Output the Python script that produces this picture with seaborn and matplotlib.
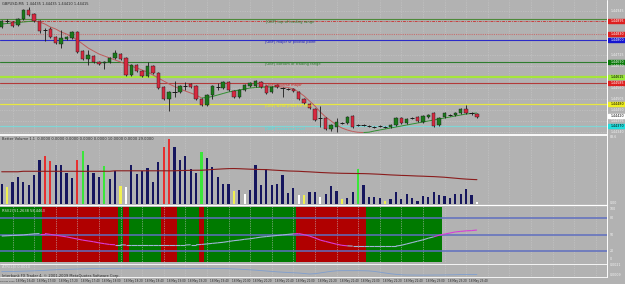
import numpy as np
import pandas as pd
import matplotlib
matplotlib.use("Agg")
import matplotlib.pyplot as plt
import seaborn as sns
from matplotlib.collections import LineCollection
from matplotlib.lines import Line2D

# ---------------- data ----------------
opens = [1.44865,1.44895,1.44890,1.44875,1.44905,1.44950,1.44930,1.44895,1.44850,1.44855,
         1.44815,1.44780,1.44805,1.44810,1.44840,1.44745,1.44705,1.44720,1.44690,1.44685,
         1.44690,1.44710,1.44730,1.44710,1.44625,1.44675,1.44645,1.44620,1.44670,1.44635,
         1.44565,1.44505,1.44540,1.44540,1.44570,1.44580,1.44570,1.44505,1.44475,1.44525,
         1.44565,1.44560,1.44590,1.44545,1.44515,1.44550,1.44570,1.44570,1.44590,1.44570,
         1.44540,1.44575,1.44560,1.44555,1.44555,1.44540,1.44505,1.44480,1.44455,1.44410,
         1.44410,1.44355,1.44365,1.44385,1.44385,1.44420,1.44375,1.44375,1.44370,1.44365,
         1.44370,1.44365,1.44365,1.44375,1.44410,1.44385,1.44410,1.44415,1.44390,1.44415,
         1.44435,1.44375,1.44415,1.44425,1.44425,1.44435,1.44455,1.44435,1.44430]
highs = [1.44900,1.44905,1.44895,1.44910,1.44955,1.44965,1.44935,1.44900,1.44860,1.44865,
         1.44820,1.44850,1.44820,1.44845,1.44845,1.44750,1.44750,1.44725,1.44695,1.44695,
         1.44715,1.44750,1.44735,1.44715,1.44680,1.44680,1.44650,1.44690,1.44675,1.44640,
         1.44570,1.44545,1.44595,1.44575,1.44590,1.44585,1.44575,1.44510,1.44530,1.44575,
         1.44585,1.44595,1.44595,1.44550,1.44555,1.44580,1.44590,1.44600,1.44595,1.44575,
         1.44570,1.44580,1.44565,1.44560,1.44560,1.44545,1.44510,1.44485,1.44460,1.44470,
         1.44415,1.44380,1.44410,1.44390,1.44420,1.44425,1.44380,1.44380,1.44375,1.44370,
         1.44375,1.44370,1.44380,1.44415,1.44415,1.44410,1.44415,1.44420,1.44425,1.44430,
         1.44440,1.44415,1.44440,1.44430,1.44440,1.44460,1.44475,1.44440,1.44435]
lows = [1.44860,1.44885,1.44865,1.44870,1.44900,1.44920,1.44890,1.44835,1.44795,1.44810,
        1.44780,1.44760,1.44800,1.44805,1.44735,1.44700,1.44675,1.44685,1.44675,1.44655,
        1.44685,1.44705,1.44700,1.44620,1.44620,1.44640,1.44615,1.44615,1.44630,1.44555,
        1.44500,1.44445,1.44515,1.44535,1.44550,1.44560,1.44500,1.44470,1.44470,1.44505,
        1.44550,1.44555,1.44545,1.44510,1.44510,1.44545,1.44565,1.44565,1.44560,1.44530,
        1.44535,1.44560,1.44515,1.44550,1.44540,1.44500,1.44480,1.44455,1.44395,1.44365,
        1.44350,1.44345,1.44340,1.44380,1.44380,1.44360,1.44370,1.44370,1.44365,1.44360,
        1.44365,1.44360,1.44360,1.44370,1.44380,1.44380,1.44405,1.44390,1.44385,1.44410,
        1.44365,1.44370,1.44410,1.44420,1.44420,1.44430,1.44430,1.44425,1.44410]
closes = [1.44895,1.44895,1.44870,1.44905,1.44950,1.44925,1.44895,1.44845,1.44850,1.44815,
          1.44785,1.44810,1.44815,1.44840,1.44740,1.44705,1.44725,1.44690,1.44680,1.44690,
          1.44710,1.44735,1.44705,1.44625,1.44675,1.44645,1.44620,1.44670,1.44635,1.44560,
          1.44505,1.44540,1.44540,1.44570,1.44570,1.44565,1.44505,1.44475,1.44525,1.44570,
          1.44565,1.44590,1.44550,1.44515,1.44550,1.44575,1.44585,1.44595,1.44565,1.44535,
          1.44565,1.44565,1.44560,1.44555,1.44545,1.44505,1.44485,1.44460,1.44400,1.44410,
          1.44355,1.44375,1.44390,1.44385,1.44415,1.44365,1.44375,1.44375,1.44370,1.44365,
          1.44370,1.44365,1.44375,1.44410,1.44385,1.44405,1.44410,1.44395,1.44420,1.44425,
          1.44370,1.44410,1.44435,1.44425,1.44435,1.44455,1.44435,1.44435,1.44415]
price_ma = [1.44880,1.448825,1.44885,1.448875,1.44890,1.448925,1.44895,1.44890,1.44880,1.44865,
            1.44855,1.44840,1.44830,1.44815,1.44800,1.44780,1.44760,1.44745,1.44730,1.44720,
            1.44710,1.44700,1.44690,1.44680,1.44670,1.44660,1.44650,1.44640,1.44625,1.44610,
            1.44595,1.44580,1.445675,1.44555,1.44545,1.44535,1.44525,1.44510,1.445125,1.445175,
            1.44525,1.445325,1.44540,1.44545,1.44550,1.44555,1.44560,1.445625,1.44564,1.44565,
            1.44566,1.445665,1.44565,1.445625,1.44555,1.44540,1.44520,1.44495,1.44470,1.44440,
            1.44415,1.44395,1.44375,1.44360,1.44350,1.443425,1.443385,1.443375,1.44339,1.44345,
            1.44350,1.44355,1.44360,1.44365,1.44370,1.44375,1.44380,1.44385,1.44390,1.44395,
            1.44400,1.44405,1.44410,1.44415,1.44420,1.44425,1.44430,1.444325,1.44435]

volumes = [25,21,27,34,27,24,36,54,59,53,49,48,39,32,54,66,48,39,34,47,
           31,41,22,21,48,37,41,45,27,52,71,81,71,54,59,43,39,64,57,46,
           34,25,25,16,17,12,17,48,24,43,24,25,36,14,20,11,11,15,15,9,
           12,22,16,6,7,15,43,24,9,9,7,4,6,15,6,13,7,4,10,9,
           15,11,10,7,12,13,19,11,2]
vol_kind = (["n","y"] + ["n"]*6 + ["r","r"] + ["n"]*4 + ["r","g"] + ["n"]*3 + ["g"]
            + ["n","n","y","w"] + ["n"]*6 + ["r","r"] + ["n"]*5 + ["g"] + ["n"]*5
            + ["y","n","w"] + ["n"]*9 + ["w","y","n","n","w","n","n","n","y","n","n","g"]
            + ["n"]*4 + ["y"] + ["n"]*16 + ["w"])
vol_ma = [40.0,40.0,40.0,40.0,40.6,40.6,40.6,40.6,40.6,40.6,
          40.6,40.6,40.6,40.6,40.6,40.6,40.6,40.6,40.6,40.6,
          40.6,41.2,41.2,41.2,41.2,41.2,41.2,41.2,41.2,41.2,
          41.2,41.2,41.2,41.5,41.6,41.8,41.9,41.9,42.3,42.8,
          43.2,43.6,43.9,44.0,43.8,43.5,43.2,43.0,42.8,42.7,
          42.2,41.8,41.4,41.0,40.8,40.6,40.2,39.9,39.5,39.1,
          38.8,38.5,38.3,38.1,38.0,37.9,37.8,37.7,37.5,37.2,
          36.9,36.5,36.1,35.8,35.5,35.3,35.0,34.7,34.5,34.2,
          34.0,33.6,33.2,32.6,32.0,31.4,30.9,30.5,30.2]

rsi_state = ["G"]*8 + ["R"]*14 + ["G"] + ["R"] + ["G"]*6 + ["R"]*3 + ["G"]*4 + ["R"] + ["G"]*17 + ["R"]*13 + ["G"]*14
rsi = [47.5,48,48.5,49,49.5,50.5,51.5,52,52,50.5,49,47.5,46,44,42,40,38.5,37,35,33.5,
       32,31.5,31.5,31,31,31,31,31,31,31,31,31,31,31,31,31.5,31.5,32,33,34,
       35,36,37.5,39,40,41.5,42.5,44,45.5,46.5,47.5,48.5,49.5,50.5,51.5,52,50,47.5,44,40,
       37.5,35,32.5,30.5,29.5,29,29,29,29,29,29,29,29,29,30.5,33,35.5,38,40.5,43.5,
       46,49,51,53,55,56,57,57.5,58.5]
rsi_levels = [80, 50, 20]

atr = [0.00130,0.00131,0.00132,0.00134,0.00136,0.00138,0.00140,0.00143,0.00146,0.00150,
       0.00153,0.00156,0.00158,0.00160,0.00162,0.00164,0.00166,0.00167,0.00168,0.00169,
       0.00170,0.00170,0.00170,0.00171,0.00171,0.00170,0.00170,0.00170,0.00170,0.00171,
       0.00171,0.00170,0.00170,0.00170,0.00169,0.00169,0.00170,0.00170,0.00170,0.00169,
       0.00168,0.00168,0.00166,0.00163,0.00160,0.00156,0.00152,0.00148,0.00143,0.00138,
       0.00133,0.00128,0.00124,0.00120,0.00117,0.00114,0.00108,0.00102,0.00106,0.00115,
       0.00125,0.00134,0.00140,0.00142,0.00142,0.00142,0.00142,0.00141,0.00139,0.00133,
       0.00124,0.00114,0.00105,0.00098,0.00093,0.00090,0.00090,0.00089,0.00089,0.00089,
       0.00090,0.00090,0.00091,0.00092,0.00093,0.00095,0.00096,0.00096,0.00096]

level_prices = [1.44903, 1.44895, 1.44830, 1.44800, 1.44690, 1.44615, 1.44585, 1.44480, 1.44370]
level_names = ["", "", "", "[GBP] major sr pivotal point", "[GBP] bottom of trading range",
               "", "[GBP] reverse major", "[GBP] weak place to short", "[GBP] resistance level"]
top_label = "[GBP] top of trading range"
grid_prices = [1.44945, 1.44725, 1.44670, 1.44560, 1.44505, 1.44450, 1.44395, 1.44340]
bid_price = 1.44420

first_time_label = "18 May 2010"
time_labels = ["18 May 16:40","18 May 17:00","18 May 17:20","18 May 17:40","18 May 18:00",
               "18 May 18:20","18 May 18:40","18 May 19:00","18 May 19:20","18 May 19:40",
               "18 May 20:00","18 May 20:20","18 May 20:40","18 May 21:00","18 May 21:20",
               "18 May 21:40","18 May 22:00","18 May 22:20","18 May 22:40","18 May 23:00",
               "18 May 23:20","18 May 23:40"]

# ---------------- styling ----------------
sns.set_theme(style="white")
plt.rcParams['font.family'] = ['DejaVu Sans']
BG = "#b2b2b2"
GRID = "#c9c9c9"
FS = 2.6
W, H = 625, 284
n = len(closes)
idx = np.arange(n)
XL = (-0.315, 112.09)

fig = plt.figure(figsize=(6.25, 2.84), dpi=100, facecolor=BG)

def rect(x0, y0, x1, y1):
    return [x0 / W, 1 - y1 / H, (x1 - x0) / W, (y1 - y0) / H]

def px_text(x, y, s, **kw):
    fig.text(x / W, 1 - y / H, s, **kw)

ax = fig.add_axes(rect(0, 0, 607, 134))
axv = fig.add_axes(rect(0, 135.5, 607, 204))
axr = fig.add_axes(rect(0, 206, 607, 263))
axa = fig.add_axes(rect(0, 264, 607, 277))
axR = fig.add_axes(rect(607, 0, 625, 134))

MAIN_YL = (1.44330, 1.45000)
for a in (ax, axv, axr, axa, axR):
    a.set_facecolor(BG)
    for s in a.spines.values():
        s.set_visible(False)
    a.set_xticks([]); a.set_yticks([])
for a in (ax, axv, axr, axa):
    a.set_xlim(*XL)
    for g in range(2, 112, 4):
        a.axvline(g, color=GRID, lw=0.5, ls=(0, (1, 1.5)), zorder=1)
ax.set_ylim(*MAIN_YL)
axR.set_ylim(*MAIN_YL); axR.set_xlim(0, 1)

# horizontal grid (main)
for gp in grid_prices:
    ax.axhline(gp, color=GRID, lw=0.5, ls=(0, (1, 1.5)), zorder=1)

# level lines
lv_styles = [("#4e8a3a", "-", 0.8), ("#c84040", (0, (3, 1, 1, 1)), 0.7), ("#c87070", (0, (1, 1)), 0.8),
             ("#2b2bc8", "-", 0.8), ("#2e7d2e", "-", 0.8), ("#a6e63a", "-", 1.6),
             ("#b33a3a", "-", 0.8), ("#e8e840", "-", 0.9), ("#7fd6d6", "-", 0.9)]
for p, (c, ls, lw) in zip(level_prices, lv_styles):
    ax.axhline(p, color=c, ls=ls, lw=lw, zorder=2)

txt_cols = ["", "", "", "#2020c0", "#2e7d2e", "", "#d42020", "#f0f020", "#40e6e6"]
ax.text(49.0, 1.448915, top_label, color="#2e7d2e", fontsize=FS, va="center", zorder=6)
for p, s, c in zip(level_prices, level_names, txt_cols):
    if s:
        ax.text(48.8, p - 0.00012, s, color=c, fontsize=FS, va="center", zorder=6)

# price MA (green rising / red falling)
pts = np.column_stack([idx, price_ma])
segs = np.stack([pts[:-1], pts[1:]], axis=1)
seg_cols = ["#2f8f2f" if price_ma[i + 1] >= price_ma[i] else "#c05a5a" for i in range(n - 1)]
ax.add_collection(LineCollection(segs, colors=seg_cols, linewidths=0.7, zorder=3))

# candles
dark = "#1a1a1a"
ax.vlines(idx, lows, highs, color=dark, lw=0.6, zorder=4)
for i in range(n):
    o, c = opens[i], closes[i]
    if abs(c - o) < 1e-9:
        ax.hlines(o, i - 0.38, i + 0.38, color=dark, lw=0.7, zorder=5)
    else:
        col = "#1b7a1b" if c > o else "#d8283f"
        ax.bar(i, abs(c - o), bottom=min(o, c), width=0.62, color=col,
               edgecolor=dark, linewidth=0.3, zorder=5)

# right price strip
box_cols = [None, "#dd2020", "#dd2020", "#1414d0", "#0a7a0a", "#9be83a", "#dd2020", "#eeee22", "#22dede"]
box_txt = [None, "white", "white", "white", "white", "black", "white", "black", "black"]
for gp in grid_prices:
    axR.text(0.2, gp, f"{gp:.5f}", fontsize=2.3, color="#f2f2f2", va="center")
for p, bc, tc in zip(level_prices, box_cols, box_txt):
    if bc:
        axR.axhspan(p - 0.00011, p + 0.00011, xmin=0.06, xmax=1, color=bc)
        axR.text(0.2, p, f"{p:.5f}", fontsize=2.3, color=tc, va="center")
axR.axhspan(bid_price - 0.00011, bid_price + 0.00011, xmin=0.06, xmax=1, color="white")
axR.text(0.2, bid_price, f"{bid_price:.5f}", fontsize=2.3, color="black", va="center")

# ---------------- volume panel (seaborn) ----------------
vol_pal = {"n": "#16165e", "r": "#e63030", "g": "#3ae63a", "y": "#f0f050", "w": "#ffffff"}
dfv = pd.DataFrame({"bar": idx, "vol": volumes, "kind": vol_kind})
sns.barplot(data=dfv, x="bar", y="vol", hue="kind", palette=vol_pal, native_scale=True,
            dodge=False, width=0.4, legend=False, ax=axv, saturation=1, errorbar=None,
            edgecolor="none", linewidth=0, zorder=3)
axv.plot(idx, vol_ma, color="#8a1c1c", lw=0.8, zorder=4)
axv.set_xlim(*XL); axv.set_ylim(0, 85)
axv.set_xlabel(""); axv.set_ylabel("")
axv.set_xticks([]); axv.set_yticks([])

# ---------------- RSI panel ----------------
axr.set_ylim(-2.0, 102.6)
for i, st in enumerate(rsi_state):
    axr.axvspan(i - 0.5, i + 0.5, ymin=(0 + 2.0) / 104.6, ymax=(100 + 2.0) / 104.6,
                color="#b00000" if st == "R" else "#007a00", lw=0, zorder=0.5)
for lv in rsi_levels:
    axr.axhline(lv, color="#5f6fc0", lw=1.1, zorder=2)
mag = set(range(8, 22)) | set(range(55, 65)) | set(range(81, 89))
rp = np.column_stack([idx, rsi])
rsegs = np.stack([rp[:-1], rp[1:]], axis=1)
rcols = ["#d83cd8" if (i + 1) in mag else "#9fb6d8" for i in range(n - 1)]
axr.add_collection(LineCollection(rsegs, colors=rcols, linewidths=0.8, zorder=3))

# ---------------- ATR panel ----------------
axa.set_ylim(0.00066, 0.00222)
axa.plot(idx, atr, color="#7f9fd0", lw=0.6, zorder=3)

# ---------------- separators & texts ----------------
for yy, lw in [(134.6, 1.3), (205.2, 0.9), (263.6, 0.6), (277.3, 0.6)]:
    fig.add_artist(Line2D([0, 607 / W], [1 - yy / H] * 2, color="white", lw=lw))
fig.add_artist(Line2D([607 / W] * 2, [1 - 277.3 / H, 1], color="white", lw=0.7))

px_text(2, 4, "GBPUSD,M5  1.44435 1.44435 1.44410 1.44415", fontsize=FS, color="#2a2a2a", va="center")
px_text(2, 139.5, "Better Volume 1.1  0.0000 0.0000 0.0000 0.0000 0.0000 10.0000 0.0000 29.0000",
        fontsize=FS, color="#2a2a2a", va="center")
px_text(2, 210.5, "RSI(2) 51.2638 58.4463", fontsize=FS, color="#e0e0e0", va="center")
px_text(2, 267.3, "ATR(14) 0.0010", fontsize=FS, color="#e0e0e0", va="center")
px_text(2, 275.5, "Interbank FX Trader 4, \u00a9 2001-2009 MetaQuotes Software Corp.",
        fontsize=FS, color="#2a2a2a", va="center")

px_text(610, 137, "83.6", fontsize=2.3, color="#f2f2f2", va="center")
px_text(610, 202.5, "0.00", fontsize=2.3, color="#f2f2f2", va="center")
for s, yy in [("100", 209), ("80", 218.3), ("50", 234.7), ("20", 251), ("0", 259.5)]:
    px_text(610, yy, s, fontsize=2.3, color="#f2f2f2", va="center")
px_text(610, 265.5, "0.0021", fontsize=2.3, color="#f2f2f2", va="center")
px_text(610, 275.5, "0.0009", fontsize=2.3, color="#f2f2f2", va="center")

px_text(0.3, 281, first_time_label, fontsize=1.65, color="#2a2a2a", va="center")
for k, s in enumerate(time_labels):
    bx = 2 + 4 * k
    xpx = 1.7 + 5.4 * bx + 3.2
    px_text(xpx, 281, s, fontsize=2.0, color="#2a2a2a", va="center")

fig.savefig("out.png", dpi=100, facecolor=BG)
